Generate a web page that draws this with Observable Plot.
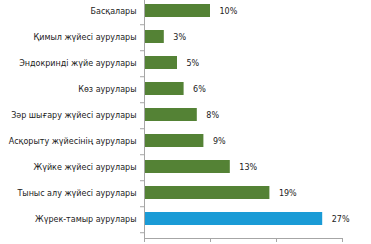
<!DOCTYPE html>
<html>
<head>
<meta charset="utf-8">
<script src="https://cdn.jsdelivr.net/npm/d3@7"></script>
<script src="https://cdn.jsdelivr.net/npm/@observablehq/plot@0.6"></script>
<style>
  html, body { margin: 0; padding: 0; background: #fff; overflow: hidden; }
  #chart svg { display: block; }
</style>
</head>
<body>
<div id="chart"></div>
<script>
const categories = [
  "Басқалары",
  "Қимыл жүйесі аурулары",
  "Эндокринді жүйе аурулары",
  "Көз аурулары",
  "Зәр шығару жүйесі аурулары",
  "Асқорыту жүйесінің аурулары",
  "Жүйке жүйесі аурулары",
  "Тыныс алу жүйесі аурулары",
  "Жүрек-тамыр аурулары"
];
const values = [10, 3, 5, 6, 8, 9, 13, 19, 27];
const highlight = "Жүрек-тамыр аурулары";
const xTicks = [0, 10, 20, 30];

const data = categories.map((c, i) => ({name: c, value: values[i]}));

const W = 371, H = 244, mTop = -9, mBottom = 6;
const step = (H - mBottom - mTop) / categories.length;

const chart = Plot.plot({
  width: W,
  height: H,
  marginLeft: 144,
  marginRight: 29,
  marginTop: mTop,
  marginBottom: mBottom,
  style: {fontFamily: "Verdana, 'DejaVu Sans', sans-serif", fontSize: "8px", color: "#333", background: "#fff"},
  x: {domain: [0, 30], axis: null, label: null},
  y: {domain: categories, padding: 0.49, axis: null, label: null},
  marks: [
    Plot.barX(data, {
      y: "name", x: "value",
      fill: d => d.name === highlight ? "#1a9bd6" : "#548235"
    }),
    Plot.text(data, {
      y: "name", x: "value", text: d => d.value + "%",
      textAnchor: "start", dx: 9, fill: "#222", fontSize: 8
    }),
    Plot.frame({anchor: "left", stroke: "#a6a6a6"}),
    Plot.frame({anchor: "bottom", stroke: "#a6a6a6"}),
    Plot.axisY({tickSize: 4, text: null, label: null, dy: step / 2, stroke: "#a6a6a6"}),
    Plot.axisY({tickSize: 0, tickPadding: 8, label: null, fill: "#222", fontSize: 8}),
    Plot.axisX({ticks: xTicks, tickSize: 4, text: null, label: null, stroke: "#a6a6a6"})
  ]
});
document.getElementById("chart").appendChild(chart);
</script>
</body>
</html>
